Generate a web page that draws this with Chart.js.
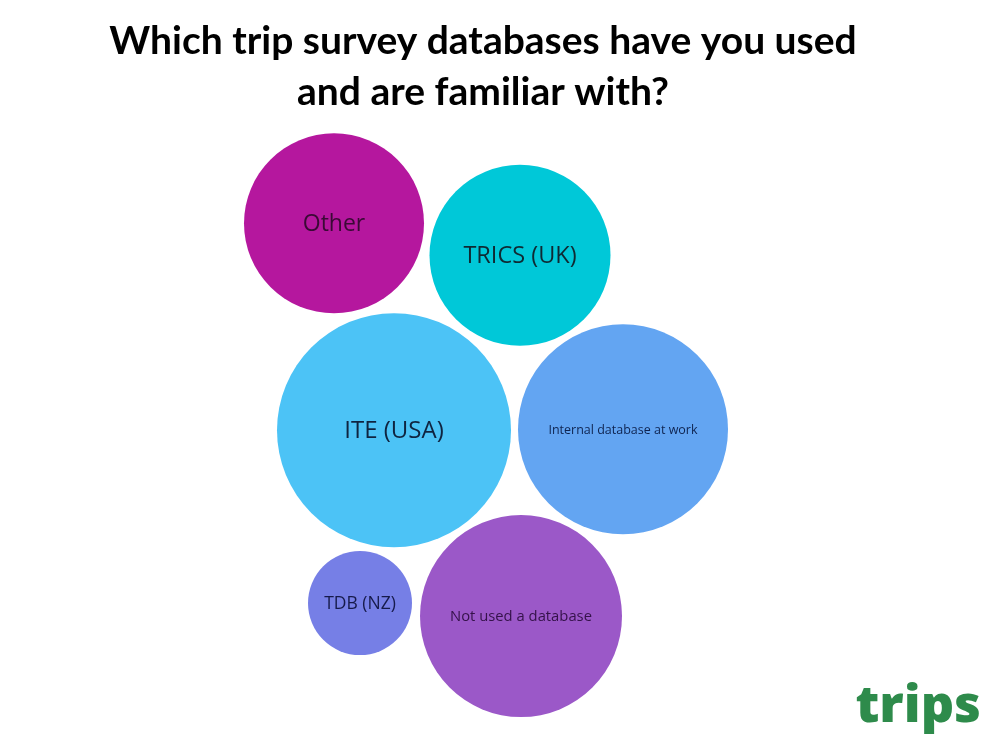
<!DOCTYPE html>
<html>
<head>
<meta charset="utf-8">
<script src="https://cdn.jsdelivr.net/npm/chart.js@4.4.1/dist/chart.umd.min.js"></script>
<style>
  html, body { margin: 0; padding: 0; background: #ffffff; }
  #wrap { width: 984px; height: 738px; position: relative; }
</style>
</head>
<body>
<div id="wrap"><canvas id="c" width="984" height="738"></canvas></div>
<script>
// ---- data ----
const categories = ["Other", "TRICS (UK)", "ITE (USA)", "Internal database at work", "TDB (NZ)", "Not used a database"];
const bubbleSize = [90, 90.5, 117, 105, 52, 101];          // bubble radius (relative size of responses)
const bubbleX = [334, 520, 394, 623, 360, 521];             // packed-layout position
const bubbleY = [96, 128, 303, 302, 476, 489];              // packed-layout position
const titleLines = ["Which trip survey databases have you used", "and are familiar with?"];
const brandText = "trips";

// ---- styles ----
const fillColors = ["#B5179E", "#00C8D8", "#4CC3F6", "#63A5F2", "#767FE6", "#9B58C8"];
const labelColors = ["#3a0a35", "#0f2a33", "#0f2440", "#0f2450", "#161a4a", "#35124a"];
const labelSizes = [23, 23.5, 24, 12.5, 17.5, 14.8];

const bubbleLabels = {
  id: 'bubbleLabels',
  afterDatasetsDraw(chart) {
    const ctx = chart.ctx;
    const meta = chart.getDatasetMeta(0);
    ctx.save();
    ctx.textAlign = 'center';
    ctx.textBaseline = 'middle';
    meta.data.forEach((el, i) => {
      ctx.font = `${labelSizes[i]}px "Open Sans", sans-serif`;
      ctx.fillStyle = labelColors[i];
      ctx.fillText(categories[i], el.x, el.y + 1);
    });
    ctx.restore();
  }
};

const brand = {
  id: 'brand',
  afterDraw(chart) {
    const ctx = chart.ctx;
    ctx.save();
    ctx.font = '800 52px "Open Sans", sans-serif';
    ctx.fillStyle = '#2E8B4B';
    ctx.textAlign = 'right';
    ctx.textBaseline = 'alphabetic';
    ctx.fillText(brandText, 981, 722);
    ctx.restore();
  }
};

new Chart(document.getElementById('c'), {
  type: 'bubble',
  data: {
    datasets: [{
      label: 'Responses',
      data: categories.map((c, i) => ({ x: bubbleX[i], y: bubbleY[i], r: bubbleSize[i] })),
      backgroundColor: fillColors,
      borderColor: fillColors,
      borderWidth: 0,
      hoverRadius: 0,
      hoverBorderWidth: 0,
      clip: false
    }]
  },
  options: {
    responsive: false,
    animation: false,
    events: [],
    layout: { autoPadding: false, padding: { left: 0, right: 18, top: 0, bottom: 0 } },
    scales: {
      x: { type: 'linear', display: false, min: 0, max: 966 },
      y: { type: 'linear', display: false, min: 0, max: 611, reverse: true }
    },
    plugins: {
      legend: { display: false },
      tooltip: { enabled: false },
      title: {
        display: true,
        text: titleLines,
        color: '#000000',
        font: { family: 'Lato', size: 39, weight: 'bold', lineHeight: 1.3 },
        padding: { top: 16, bottom: 10 }
      }
    }
  },
  plugins: [bubbleLabels, brand]
});
</script>
</body>
</html>
